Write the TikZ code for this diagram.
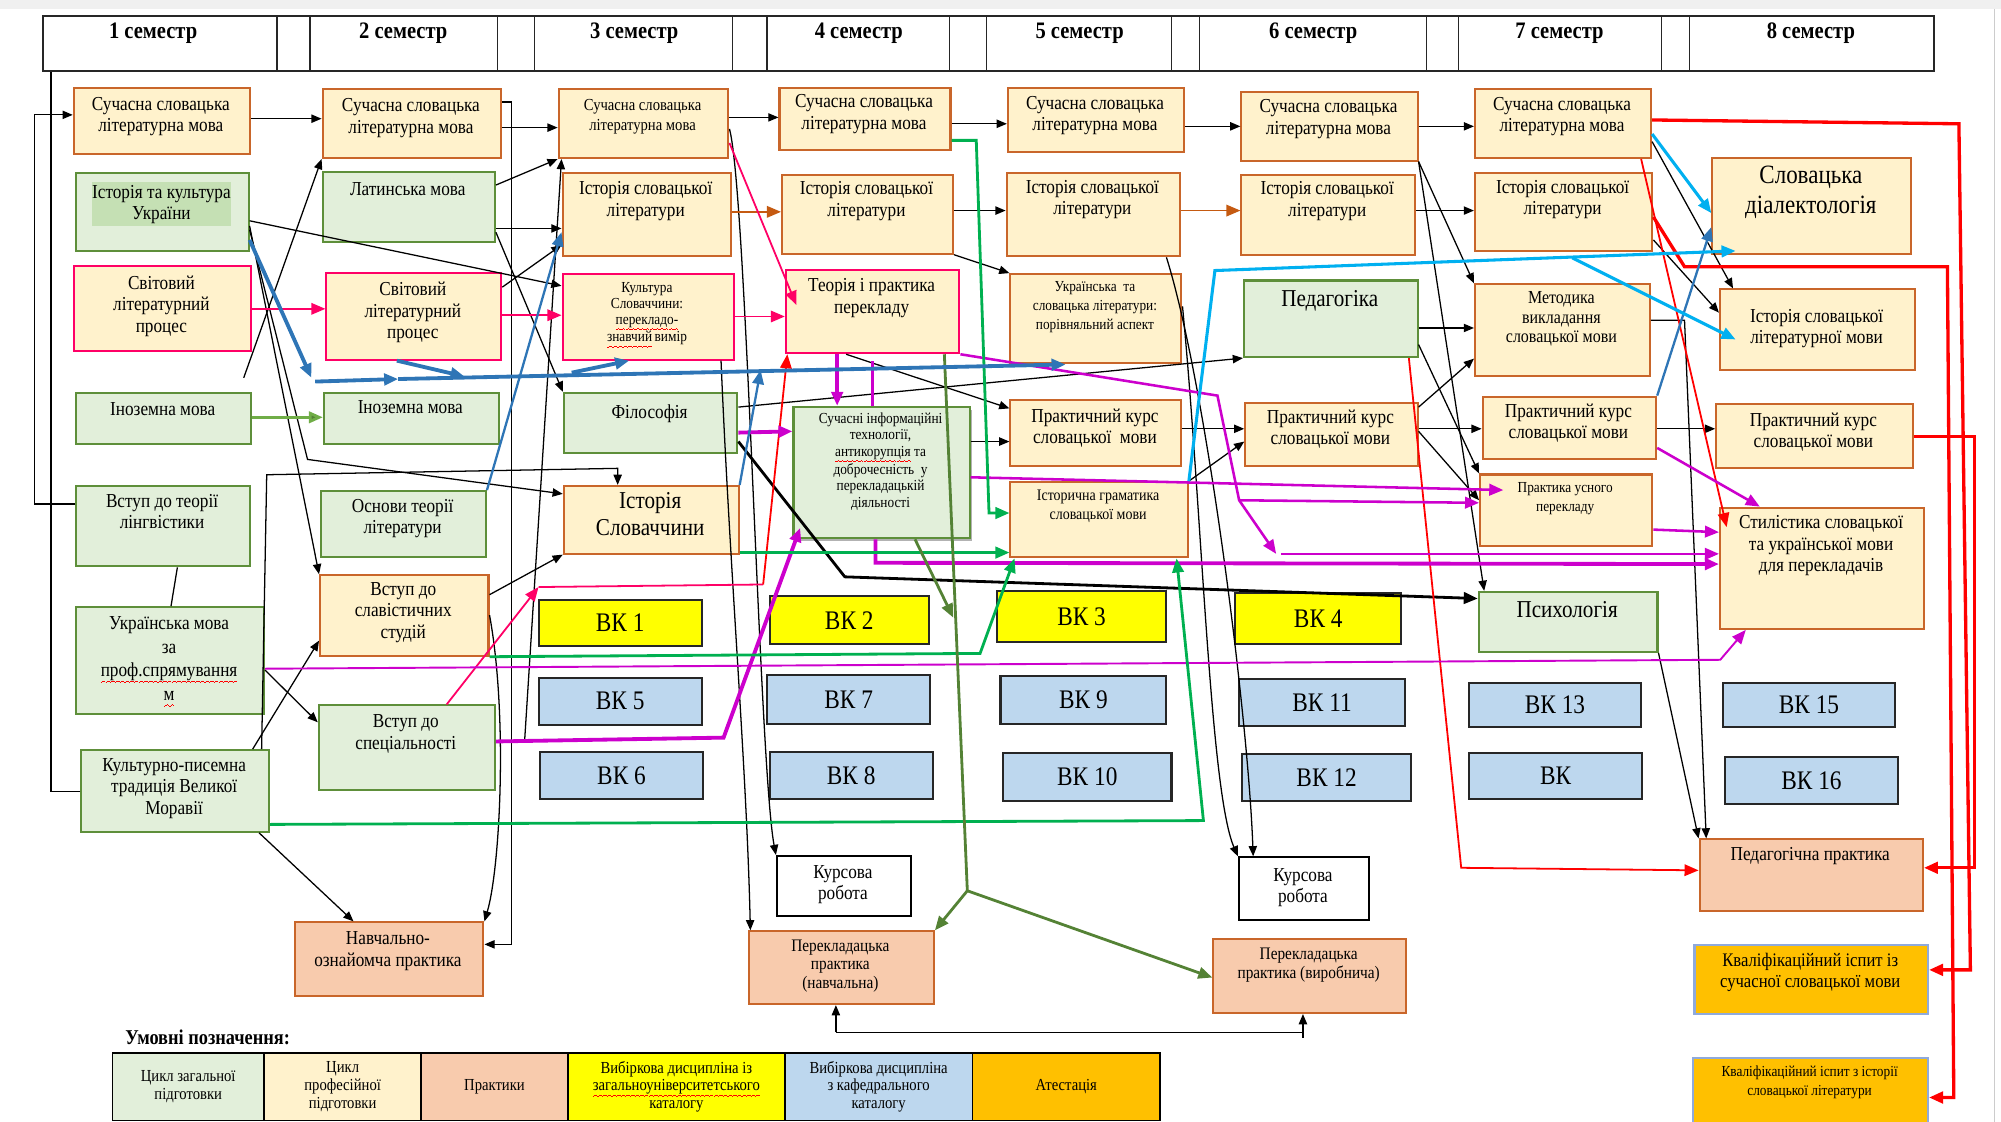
\documentclass[tikz,border=0pt]{standalone}
\usepackage{fontspec}
\setmainfont{Liberation Serif}[FakeStretch=0.87]
\usetikzlibrary{arrows.meta,calc}
\newsavebox\wvbox
\newcommand\wvpiece{\hbox{\rule[-4.6pt]{0.9pt}{0.6pt}\rule[-4.1pt]{0.9pt}{0.6pt}\rule[-3.6pt]{0.9pt}{0.6pt}\rule[-4.1pt]{0.9pt}{0.6pt}}}
\newcommand\rwave[1]{\leavevmode\sbox\wvbox{#1}\rlap{\color{red}\xleaders\wvpiece\hskip\wd\wvbox}\usebox\wvbox}
\newcommand\fz[2]{\fontsize{#1}{#2}\selectfont}
\definecolor{profF}{HTML}{FFF2CC}
\definecolor{profD}{HTML}{C9662A}
\definecolor{genF}{HTML}{E2EFDA}
\definecolor{genD}{HTML}{5E8F3A}
\definecolor{pinkD}{HTML}{FF0066}
\definecolor{practF}{HTML}{F8CBAD}
\definecolor{vkY}{HTML}{FFFF00}
\definecolor{vkB}{HTML}{BDD7EE}
\definecolor{attF}{HTML}{FFC000}
\definecolor{attD}{HTML}{8FAADC}
\definecolor{mag}{HTML}{CC00CC}
\definecolor{grn}{HTML}{00B050}
\definecolor{olv}{HTML}{548235}
\definecolor{olvL}{HTML}{70AD47}
\definecolor{blu}{HTML}{2E75B6}
\definecolor{cyn}{HTML}{00B0F0}
\definecolor{redL}{HTML}{FF0000}
\definecolor{orgL}{HTML}{C55A11}
\definecolor{hl}{HTML}{C5E0B4}
\tikzset{
 bxbase/.style={draw, line width=1.6pt, inner sep=0pt},
 prof/.style={bxbase, draw=profD, fill=profF},
 gen/.style={bxbase, draw=genD, fill=genF},
 pnk/.style={bxbase, draw=pinkD, fill=profF},
 pract/.style={bxbase, draw=profD, fill=practF},
 vky/.style={bxbase, draw=black!85, fill=vkY},
 vkb/.style={bxbase, draw=black!85, fill=vkB},
 att/.style={bxbase, draw=attD, fill=attF},
 wht/.style={bxbase, draw=black, fill=white},
 txt/.style={inner sep=0pt, align=center, font=\fz{15.5}{16.8}},
 hd/.style={inner sep=0pt, font=\bfseries\fz{18.5}{20}},
 ah/.style={-{Triangle[length=8pt,width=6.5pt]}},
 ahb/.style={-{Triangle[length=11pt,width=9pt]}},
 ln/.style={line width=1pt, draw=black},
 arr/.style={ln, ah},
 arrT/.style={line width=2.2pt, draw=black, ahb},
 org/.style={line width=1.3pt, draw=orgL, ahb},
 pkl/.style={line width=1.4pt, draw=pinkD},
 pk/.style={pkl, ahb},
 rd/.style={line width=1.4pt, draw=redL, ahb},
 rdT/.style={line width=2.6pt, draw=redL, ahb},
 mgl/.style={line width=1.5pt, draw=mag},
 mg/.style={mgl, ahb},
 mgM/.style={line width=2pt, draw=mag, ahb},
 mgT/.style={line width=3pt, draw=mag, ahb},
 grM/.style={line width=2.2pt, draw=grn, ahb},
 oll/.style={line width=2.2pt, draw=olv},
 olM/.style={oll, ahb},
 blM/.style={line width=1.8pt, draw=blu, ahb},
 blT/.style={line width=3pt, draw=blu, ahb},
 cyT/.style={line width=2.4pt, draw=cyn, ahb}
}
\newcommand\bx[9]{%
 \node[#2, anchor=north west, minimum width={(#5-#3)*1pt}, minimum height={(#6-#4)*1pt}] (#1) at (#3,#4) {};
 \node[txt, anchor=north, #8] (#1t) at ({(#3+#5)/2},#7) {#9};}
\newcommand\vk[7]{\node[#2, minimum width={(#5-#3)*1pt}, minimum height={(#6-#4)*1pt}, font=\fz{21}{22}] (#1) at ({(#3+#5)/2},{(#4+#6)/2}) {#7};}
\newcommand\lgc[5]{\node[draw=black, line width=1.2pt, fill=#2, minimum width={(#4-#3)*1pt}, minimum height=53pt, inner sep=0pt, align=center, font=\fz{13.2}{14}] (#1) at ({(#3+#4)/2},851.5) {#5};}
\begin{document}
\begin{tikzpicture}[x=1pt,y=-1pt]
\useasboundingbox (0,0) rectangle (1568,879);
\fill[black!6] (0,0) rectangle (1568,7);
\draw[black!20] (1563,7) -- (1563,879);
% header
\node[draw=black!85, line width=1.2pt, anchor=north west, minimum width=1482pt, minimum height=43pt, inner sep=0pt] (hdr) at (33,12) {};
\foreach \xx in {217,243,390,419,574,601,744,773,918,940,1118,1143,1302,1324}
  \draw[black!85, line width=1pt] (hdr.north-|\xx,0) -- (hdr.south-|\xx,0);
\node[hd] (h1) at (120,26) {1 семестр};
\node[hd] (h2) at (316,26) {2 семестр};
\node[hd] (h3) at (497,26) {3 семестр};
\node[hd] (h4) at (673,26) {4 семестр};
\node[hd] (h5) at (846,26) {5 семестр};
\node[hd] (h6) at (1029,26) {6 семестр};
\node[hd] (h7) at (1222,26) {7 семестр};
\node[hd] (h8) at (1419,26) {8 семестр};
% column 1
\bx{c1s}{prof}{57}{68}{195}{120}{76}{}{Сучасна словацька\\літературна мова}
\node[gen, anchor=north west, minimum width=135pt, minimum height=61pt] (c1h) at (59,135) {};
\fill[hl] (72,143) rectangle (181,177);
\node[txt, anchor=north] (c1ht) at (126.5,145) {Історія та культура\\України};
\bx{c1w}{pnk}{57}{208}{196}{274}{216}{}{Світовий\\літературний\\процес}
\bx{c1i}{gen}{59}{307}{196}{347}{315}{}{Іноземна мова}
\bx{c1v}{gen}{59}{380}{195}{443}{387}{}{Вступ до теорії\\лінгвістики}
\bx{c1u}{gen}{59}{475}{206}{559}{483}{font=\fz{15.5}{18.5}}{Українська мова\\за\\\rwave{проф.спрямування}\\\rwave{м}}
\bx{c1k}{gen}{63}{587}{210}{651}{594}{}{Культурно-писемна\\традиція Великої\\Моравії}
% column 2
\bx{c2s}{prof}{252}{69}{392}{123}{77}{}{Сучасна словацька\\літературна мова}
\bx{c2l}{gen}{252}{134}{387}{189}{143}{}{Латинська мова}
\bx{c2w}{pnk}{255}{213}{392}{281}{221}{}{Світовий\\літературний\\процес}
\bx{c2i}{gen}{253}{307}{390}{347}{314}{}{Іноземна мова}
\bx{c2o}{gen}{251}{384}{380}{436}{391}{}{Основи теорії\\літератури}
\bx{c2v}{prof}{250}{450}{382}{513}{456}{}{Вступ до\\славістичних\\студій}
\bx{c2p}{gen}{249}{552}{387}{618}{560}{}{Вступ до\\спеціальності}
\bx{c2n}{pract}{230}{722}{378}{780}{730}{}{Навчально-\\ознайомча практика}
% column 3
\bx{c3s}{prof}{437}{69}{570}{123}{78}{font=\fz{13.2}{15}}{Сучасна словацька\\літературна мова}
\bx{c3h}{prof}{440}{135}{572}{200}{142}{}{Історія словацької\\літератури}
\bx{c3k}{pnk}{440}{214}{574}{281}{221}{font=\fz{12}{12.5}}{Культура\\Словаччини:\\\rwave{перекладо-}\\\rwave{знавчий}\,вимір}
\bx{c3f}{gen}{441}{307}{577}{354}{317}{}{Філософія}
\bx{c3i}{prof}{441}{380}{578}{433}{386}{font=\fz{19}{21}}{Історія\\Словаччини}
\vk{b1}{vky}{422}{470}{550}{506}{ВК 1}
\vk{b5}{vkb}{422}{531}{550}{568}{ВК 5}
\vk{b6}{vkb}{423}{589}{551}{626}{ВК 6}
% column 4
\bx{c4s}{prof}{610}{68}{744}{117}{74}{}{Сучасна словацька\\літературна мова}
\bx{c4h}{prof}{612}{136}{746}{198}{142}{}{Історія словацької\\літератури}
\bx{c4t}{pnk}{615}{211}{751}{276}{218}{}{Теорія і практика\\перекладу}
\fill[black!30] (624,321) rectangle (762,424);
\bx{c4c}{gen}{621}{318}{759}{421}{323}{font=\fz{12}{13}}{Сучасні інформаційні\\технології,\\\rwave{антикорупція} та\\доброчесність~ у\\перекладацькій\\діяльності}
\vk{b2}{vky}{603}{467}{728}{505}{ВК 2}
\vk{b7}{vkb}{601}{529}{729}{567}{ВК 7}
\vk{b8}{vkb}{603}{589}{731}{626}{ВК 8}
\bx{c4k}{wht}{608}{670}{713}{717}{678}{}{Курсова\\робота}
\bx{c4p}{pract}{586}{729}{731}{786}{736}{font=\fz{13.8}{14.5}}{Перекладацька\\практика\\(навчальна)}
% column 5
\bx{c5s}{prof}{789}{68}{927}{118}{75}{}{Сучасна словацька\\літературна мова}
\bx{c5h}{prof}{788}{135}{924}{200}{141}{}{Історія словацької\\літератури}
\bx{c5u}{prof}{791}{214}{925}{284}{220}{font=\fz{12}{15}}{Українська~ та\\словацька літератури:\\порівняльний аспект}
\bx{c5p}{prof}{791}{313}{925}{364}{320}{}{Практичний курс\\словацької~ мови}
\bx{c5g}{prof}{791}{377}{930}{436}{384}{font=\fz{12.6}{15}}{Історична граматика\\словацької мови}
\vk{b3}{vky}{781}{463}{914}{503}{ВК 3}
\vk{b9}{vkb}{784}{530}{914}{567}{ВК 9}
\vk{b10}{vkb}{786}{590}{918}{628}{ВК 10}
% column 6
\bx{c6s}{prof}{972}{71}{1110}{125}{78}{}{Сучасна словацька\\літературна мова}
\bx{c6h}{prof}{972}{136}{1108}{199}{142}{}{Історія словацької\\літератури}
\bx{c6p}{gen}{974}{219}{1110}{279}{227}{font=\fz{19}{20}}{Педагогіка}
\bx{c6k}{prof}{975}{315}{1110}{364}{321}{}{Практичний курс\\словацької мови}
\vk{b4}{vky}{968}{465}{1098}{505}{ВК 4}
\vk{b11}{vkb}{971}{532}{1101}{569}{ВК 11}
\vk{b12}{vkb}{973}{591}{1106}{628}{ВК 12}
\bx{c6r}{wht}{970}{671}{1072}{720}{680}{}{Курсова\\робота}
\bx{c6v}{pract}{950}{735}{1101}{793}{743}{font=\fz{13.8}{14.5}}{Перекладацька\\практика (виробнича)}
% column 7
\bx{c7s}{prof}{1155}{69}{1293}{123}{76}{}{Сучасна словацька\\літературна мова}
\bx{c7h}{prof}{1155}{135}{1294}{196}{141}{}{Історія словацької\\літератури}
\bx{c7m}{prof}{1155}{222}{1292}{294}{228}{font=\fz{14.4}{15.5}}{Методика\\викладання\\словацької мови}
\bx{c7p}{prof}{1161}{310}{1297}{359}{316}{}{Практичний курс\\словацької мови}
\bx{c7u}{prof}{1159}{371}{1294}{427}{378}{font=\fz{12}{15}}{Практика усного\\перекладу}
\bx{c7g}{gen}{1158}{463}{1298}{510}{471}{font=\fz{19}{20}}{Психологія}
\vk{b13}{vkb}{1151}{535}{1286}{570}{ВК 13}
\vk{b14}{vkb}{1151}{590}{1287}{626}{ВК}
% column 8
\bx{c8d}{prof}{1341}{123}{1497}{198}{130}{font=\fz{20.7}{23}}{Словацька\\діалектологія}
\bx{c8h}{prof}{1347}{226}{1500}{289}{242}{}{Історія словацької\\літературної мови}
\bx{c8p}{prof}{1344}{316}{1498}{366}{323}{}{Практичний курс\\словацької мови}
\bx{c8s}{prof}{1347}{397}{1507}{492}{404}{}{Стилістика словацької\\та української мови\\для перекладачів}
\vk{b15}{vkb}{1350}{535}{1485}{570}{ВК 15}
\vk{b16}{vkb}{1352}{593}{1487}{630}{ВК 16}
\bx{c8pp}{pract}{1331}{657}{1506}{713}{664}{}{Педагогічна практика}
\bx{c8q1}{att}{1327}{740}{1510}{794}{747}{font=\fz{15}{16.5}}{Кваліфікаційний іспит із\\сучасної словацької мови}
\bx{c8q2}{att}{1326}{828}{1510}{886}{835}{font=\fz{12}{15}}{Кваліфікаційний іспит з історії\\словацької літератури}
% legend
\node[font=\bfseries\fz{16.5}{17}, anchor=west, inner sep=0pt] (lgt) at (98,813) {Умовні позначення:};
\lgc{lg1}{genF}{88}{207}{Цикл загальної\\підготовки}
\lgc{lg2}{profF}{207}{330}{Цикл\\професійної\\підготовки}
\lgc{lg3}{practF}{330}{445}{Практики}
\lgc{lg4}{vkY}{445}{615}{Вибіркова дисципліна із\\\rwave{загальноуніверситетського}\\каталогу}
\lgc{lg5}{vkB}{615}{762}{Вибіркова дисципліна\\з кафедрального\\каталогу}
\lgc{lg6}{attF}{762}{909}{Атестація}
% ---------- connectors: black
\draw[arr] (c1v.west|-0,395) -- (27,395) -- (27,90) -- (c1s.west|-0,90);
\draw[ln] (c1k.west|-0,620) -- (40,620) -- (hdr.south-|40,0);
\draw[arr] (c1s.east|-0,93) -- (c2s.west|-0,93);
\draw[arr] (c2s.east|-0,100) -- (c3s.west|-0,100);
\draw[arr] (c2s.east|-0,80) -- (401,80) -- (401,740) -- (c2n.east|-0,740);
\draw[arr] (c2v.east|-0,482) .. controls (398,560) and (392,680) .. (c2n.north east);
\draw[arr] (c1k.south-|203,0) -- (c2n.north-|277,0);
\draw[arr] (c1h.east|-0,173) -- (c3k.west|-0,224);
\draw[arr] (c1h.east|-0,177) -- (c2v.north west);
\draw[arr] (c1h.east|-0,180) -- (241,360) -- (c3i.west|-0,387);
\coordinate (f1) at (191,296);
\draw[arr] (f1) -- (c2s.south west);
\draw[arr] (c1k.north-|198,0) -- (c2v.west|-0,502);
\draw[arr] (c1k.north-|205,0) -- (209,372) -- (484,367) -- (c3i.north-|484,0);
\draw[ln] (c1v.south-|139,0) -- (c1u.north-|134,0);
\draw[arr] (c1u.east|-0,525) -- (c2p.west|-0,566);
\draw[arr] (c2l.east|-0,145) -- (c3s.south west);
\draw[arr] (c2l.east|-0,179) -- (c3h.west|-0,179);
\draw[arr] (c2w.east|-0,225) -- (c3h.west|-0,192);
\draw[arr] (c2l.east|-0,182) -- (c3f.north west);
\coordinate (f2) at (411,582);
\draw[arr] (f2) -- (c3s.south-|440,0);
\draw[arr] (c2v.east|-0,466) -- (c3i.south west);
\draw[arr] (c3s.east|-0,92) -- (c4s.west|-0,92);
\draw[arr] (c3s.east|-0,101) .. controls (585,150) and (595,600) .. (c4k.north west);
\draw[arr] (c3k.south-|565,0) .. controls (572,450) and (585,600) .. (c4p.north-|588,0);
\draw[arr] (c4h.east|-0,165) -- (c5h.west|-0,165);
\draw[arr] (c6h.east|-0,165) -- (c7h.west|-0,165);
\draw[arr] (c4h.south east) -- (c5u.north west);
\draw[arr] (c4s.east|-0,97) -- (c5s.west|-0,97);
\draw[arr] (c5s.east|-0,99) -- (c6s.west|-0,99);
\draw[arr] (c6s.east|-0,99) -- (c7s.west|-0,99);
\draw[arr] (c6s.south east) -- (c7m.north west);
\draw[arr] (c6s.south east) -- (c7g.north-|1163,0);
\draw[arr] (c6p.east|-0,270) -- (c7u.north west);
\draw[arr] (c6p.east|-0,257) -- (c7m.west|-0,257);
\draw[arr] (c6k.east|-0,319) -- (c7m.west|-0,281);
\draw[arr] (c6k.east|-0,336) -- (c7p.west|-0,336);
\draw[arr] (c6k.east|-0,338) -- (c7u.west|-0,392);
\draw[arr] (c7p.east|-0,336) -- (c8p.west|-0,336);
\draw[arr] (c7h.east|-0,188) -- (c8h.west|-0,245);
\draw[arr] (c7s.east|-0,111) -- (c8h.north-|1358,0);
\draw[arr] (c7m.east|-0,251) -- (1320,251) -- (c8pp.north-|1337,0);
\draw[arr] (c7g.south east) -- (c8pp.north west);
\draw[arr] (c3f.east|-0,319) -- (c6p.south west);
\draw[arr] (c4t.south-|663,0) -- (c5p.west|-0,320);
\draw[arr] (c4c.east|-0,346) -- (c5p.west|-0,346);
\draw[arr] (c5p.east|-0,336) -- (c6k.west|-0,336);
\draw[arr] (c5g.north east) -- (c6k.west|-0,346);
\draw[arrT] (c3f.east|-0,346) -- (662,452) -- (c7g.west|-0,469);
\draw[arr] (c5h.south-|914,0) .. controls (945,300) and (978,560) .. (c6r.north-|982,0);
\draw[arr] (c5u.east|-0,240) .. controls (942,400) and (948,620) .. (c6r.north west);
\coordinate (bt) at (1021,813);
\draw[ln] (bt) -- (1021,809) -- (655,809);
\draw[arr] (655,809) -- (c4p.south-|655,0);
\draw[arr] (bt) -- (c6v.south-|1021,0);
% orange
\draw[org] (c3h.east|-0,166) -- (c4h.west|-0,166);
\draw[org] (c5h.east|-0,165) -- (c6h.west|-0,165);
% pink
\draw[pk] (c1w.east|-0,242) -- (c2w.west|-0,242);
\draw[pk] (c2w.east|-0,247) -- (c3k.west|-0,247);
\draw[pk] (c3k.east|-0,248) -- (c4t.west|-0,248);
\draw[pk] (c3s.east|-0,112) -- ($(c4t.north west)+(9,28)$);
\coordinate (f3) at (422,460);
\draw[pk] (c2p.north-|350,0) -- (f3);
\draw[pkl] (f3) -- (598,458);
\draw[rd] (598,458) -- (c4t.south-|617,0);
% red
\draw[rdT] (c7s.east|-0,94) -- (1535,97) -- (1544,760) -- (c8q1.east|-0,760);
\draw[rdT] (c7h.east|-0,170) -- (1320,209) -- (1526,209) -- (1531,860) -- (c8q2.east|-0,860);
\draw[rdT] (c8p.east|-0,342) -- (1547,342) -- (1547,680) -- (c8pp.east|-0,680);
\draw[rd] (c6p.south-|1104,0) -- (1145,680) -- (c8pp.west|-0,682);
\draw[rd] (c7s.south-|1286,0) -- ($(c8s.north west)+(6,16)$);
% magenta
\draw[mgT] (c4t.south-|656,0) -- (c4c.north-|656,0);
\coordinate (f4) at (684,283);
\draw[mgl, line width=2.4pt] (f4) -- (c4c.north-|684,0);
\draw[mgT] (c3f.east|-0,339) -- (c4c.west|-0,338);
\draw[mgT] (c2p.east|-0,581) -- (567,578) -- ($(c4c.south west)+(6,-9)$);
\draw[mgM] (c4t.south east) -- (954,310) -- (971,392) -- (1000,434);
\draw[mgM] (971,392) -- (c7u.west|-0,394);
\coordinate (f5) at (1004,434);
\draw[mgM] (f5) -- (c8s.west|-0,434);
\draw[mgM] (c4c.east|-0,374) -- ($(c7u.west|-0,384)+(19,0)$);
\draw[mgT] (c4c.south-|686,0) -- (686,441) -- (c8s.west|-0,442);
\draw[mgM] (c7u.east|-0,415) -- (c8s.west|-0,417);
\draw[mgM] (c7p.east|-0,351) -- (c8s.north-|1379,0);
\draw[mg] (c1u.east|-0,524) -- (1348,517) -- (c8s.south-|1368,0);
% green
\draw[grM] (c4s.east|-0,110) -- (765,110) -- (775,402) -- (c5g.west|-0,402);
\draw[grM] (c3i.east|-0,433) -- (c5g.west|-0,433);
\draw[grM] (c2v.south east) -- (768,512) -- (c5g.south-|795,0);
\draw[grM] (c1k.east|-0,646) -- (943,643) -- (c5g.south-|922,0);
% olive
\draw[line width=2.2pt, draw=olvL, -{Triangle[length=11pt,width=9pt,fill=olv]}] (c1i.east|-0,327) -- (c2i.west|-0,327);
\coordinate (o1) at (758,698);
\draw[oll] (c4t.south-|740,0) -- (o1);
\draw[olM] (o1) -- (c4p.north east);
\draw[olM] (o1) -- (c6v.west|-0,766);
\coordinate (o3) at (747,484);
\draw[olM] (c4c.south-|717,0) -- (o3);
% blue
\coordinate (bA) at (244,296);
\draw[blT] (c1h.east|-0,188) -- (bA);
\coordinate (bB) at (247,299);
\coordinate (bC) at (312,297);
\draw[blT] (bB) -- (bC);
\draw[blT] (bC) -- (c5u.south-|835,0);
\coordinate (bD) at (364,295);
\draw[blT] (c2w.south-|311,0) -- (bD);
\coordinate (bE) at (448,292);
\draw[blT] (bE) -- (c3k.south-|493,0);
\draw[blM] (c2o.north east) -- (c3h.west|-0,182);
\coordinate (f6) at (596,290);
\draw[blM] (c3i.north east) -- (f6);
\draw[blM] (c7p.north east) -- (c8d.west|-0,178);
% cyan
\draw[cyT] (c5g.north east) -- (952,212) -- ($(c8d.south west)+(19,-3)$);
\coordinate (cA) at (1232,202);
\draw[cyT] (cA) -- ($(c8h.west|-0,266)+(13,0)$);
\draw[cyT] (c7s.east|-0,105) -- (c8d.west|-0,167);
\end{tikzpicture}
\end{document}
